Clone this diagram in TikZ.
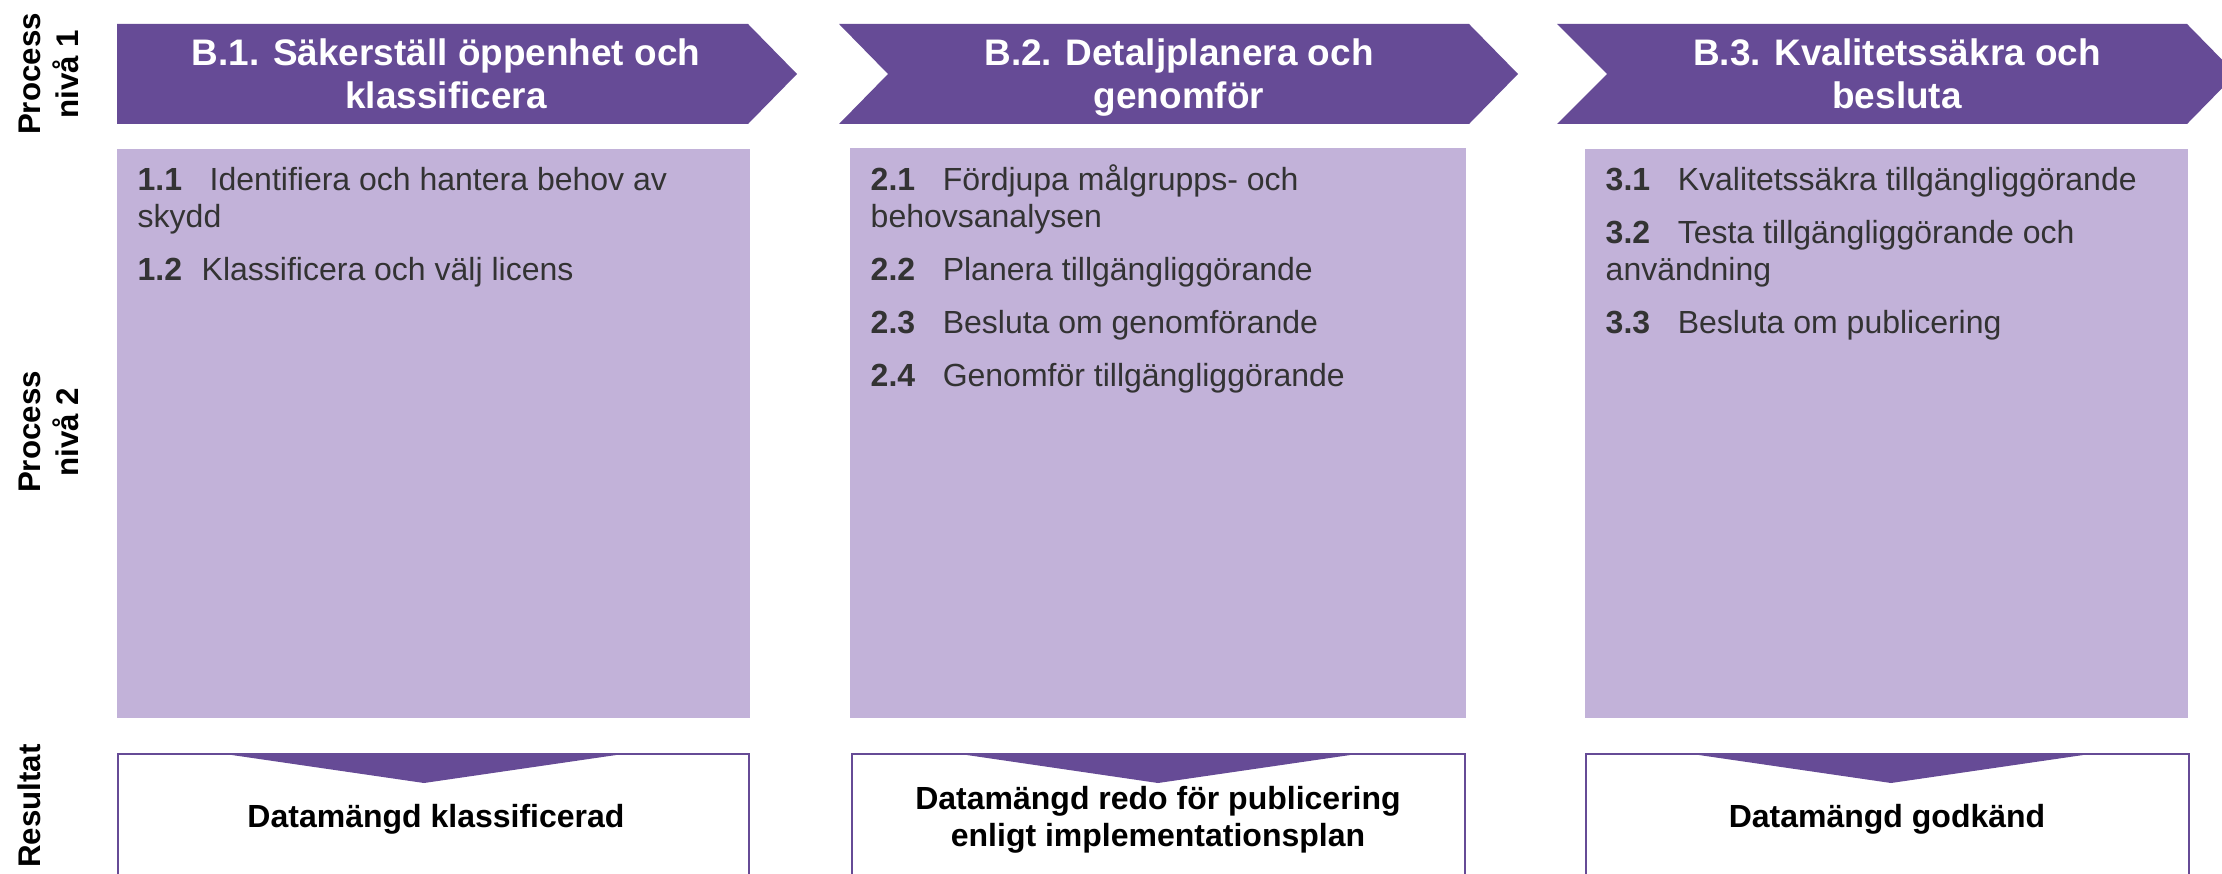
\documentclass[tikz,border=0pt]{standalone}
\usepackage{fontspec}
\setmainfont{Liberation Sans}
\definecolor{lila}{RGB}{102,75,150}
\definecolor{ljuslila}{RGB}{194,178,217}
\definecolor{textgra}{RGB}{51,51,51}
\newcommand{\stegnr}[2][0.72cm]{\makebox[#1][l]{\textbf{#2}}}
\tikzset{
  rubrik/.style={anchor=base,inner sep=0pt,text=white,align=center,
    font=\fontsize{10.5}{12.5}\selectfont\bfseries},
  etikett/.style={rotate=90,inner sep=0pt,align=center,
    font=\fontsize{8.9}{10.8}\selectfont\bfseries},
  steg/.style={anchor=base west,inner sep=0pt,align=left,text=textgra,
    font=\fontsize{9.1}{10.5}\selectfont},
  resultat/.style={anchor=base,inner sep=0pt,align=center,
    font=\fontsize{9.1}{10.5}\selectfont\bfseries},
  resram/.style={draw=lila,line width=0.7pt,fill=white},
}
\begin{document}
\begin{tikzpicture}[x=0.01cm,y=-0.01cm]
  \useasboundingbox (0,0) rectangle (2222,873);
  \clip (0,0) rectangle (2222,873);

  % radrubriker
  \node[etikett] (niva1) at (49,74) {Process\\nivå 1};
  \node[etikett] (niva2) at (49,432) {Process\\nivå 2};
  \node[etikett] (resultat) at (29,806) {Resultat};

  % pilar, process niva 1
  \fill[lila] (117,24) -- (748,24) -- (797,74) -- (748,124) -- (117,124) -- cycle;
  \fill[lila] (839,24) -- (1469,24) -- (1518,74) -- (1469,124) -- (839,124) -- (888,74) -- cycle;
  \fill[lila] (1557,24) -- (2187,24) -- (2236,74) -- (2187,124) -- (1557,124) -- (1607,74) -- cycle;
  % base = sista radens baslinje
  \node[rubrik] (b1) at (446,109) {B.1. Säkerställ öppenhet och\\klassificera};
  \node[rubrik] (b2) at (1179,109) {B.2. Detaljplanera och\\genomför};
  \node[rubrik] (b3) at (1897,109) {B.3. Kvalitetssäkra och\\besluta};

  % process niva 2
  \fill[ljuslila] (117,149) rectangle (750,718);
  \fill[ljuslila] (850,148) rectangle (1466,718);
  \fill[ljuslila] (1585,149) rectangle (2188,718);

  \node[steg] (s11) at (137,227) {\stegnr{1.1}Identifiera och hantera behov av\\skydd};
  \node[steg] (s12) at (137,280) {\stegnr[0.64cm]{1.2}Klassificera och välj licens};

  \node[steg] (s21) at (870,227) {\stegnr{2.1}Fördjupa målgrupps- och\\behovsanalysen};
  \node[steg] (s22) at (870,280) {\stegnr{2.2}Planera tillgängliggörande};
  \node[steg] (s23) at (870,333) {\stegnr{2.3}Besluta om genomförande};
  \node[steg] (s24) at (870,386) {\stegnr{2.4}Genomför tillgängliggörande};

  \node[steg] (s31) at (1605,190) {\stegnr{3.1}Kvalitetssäkra tillgängliggörande};
  \node[steg] (s32) at (1605,280) {\stegnr{3.2}Testa tillgängliggörande och\\användning};
  \node[steg] (s33) at (1605,333) {\stegnr{3.3}Besluta om publicering};

  % resultat
  \draw[resram] (118,754) rectangle (749,900);
  \draw[resram] (852,754) rectangle (1465,900);
  \draw[resram] (1586,754) rectangle (2189,900);
  \fill[lila] (225,754) -- (623,754) -- (424,783) -- cycle;
  \fill[lila] (960,754) -- (1357,754) -- (1158,783) -- cycle;
  \fill[lila] (1692,754) -- (2090,754) -- (1891,783) -- cycle;

  \node[resultat] (r1) at (436,827) {Datamängd klassificerad};
  \node[resultat] (r2) at (1158,846) {Datamängd redo för publicering\\enligt implementationsplan};
  \node[resultat] (r3) at (1887,827) {Datamängd godkänd};
\end{tikzpicture}
\end{document}
